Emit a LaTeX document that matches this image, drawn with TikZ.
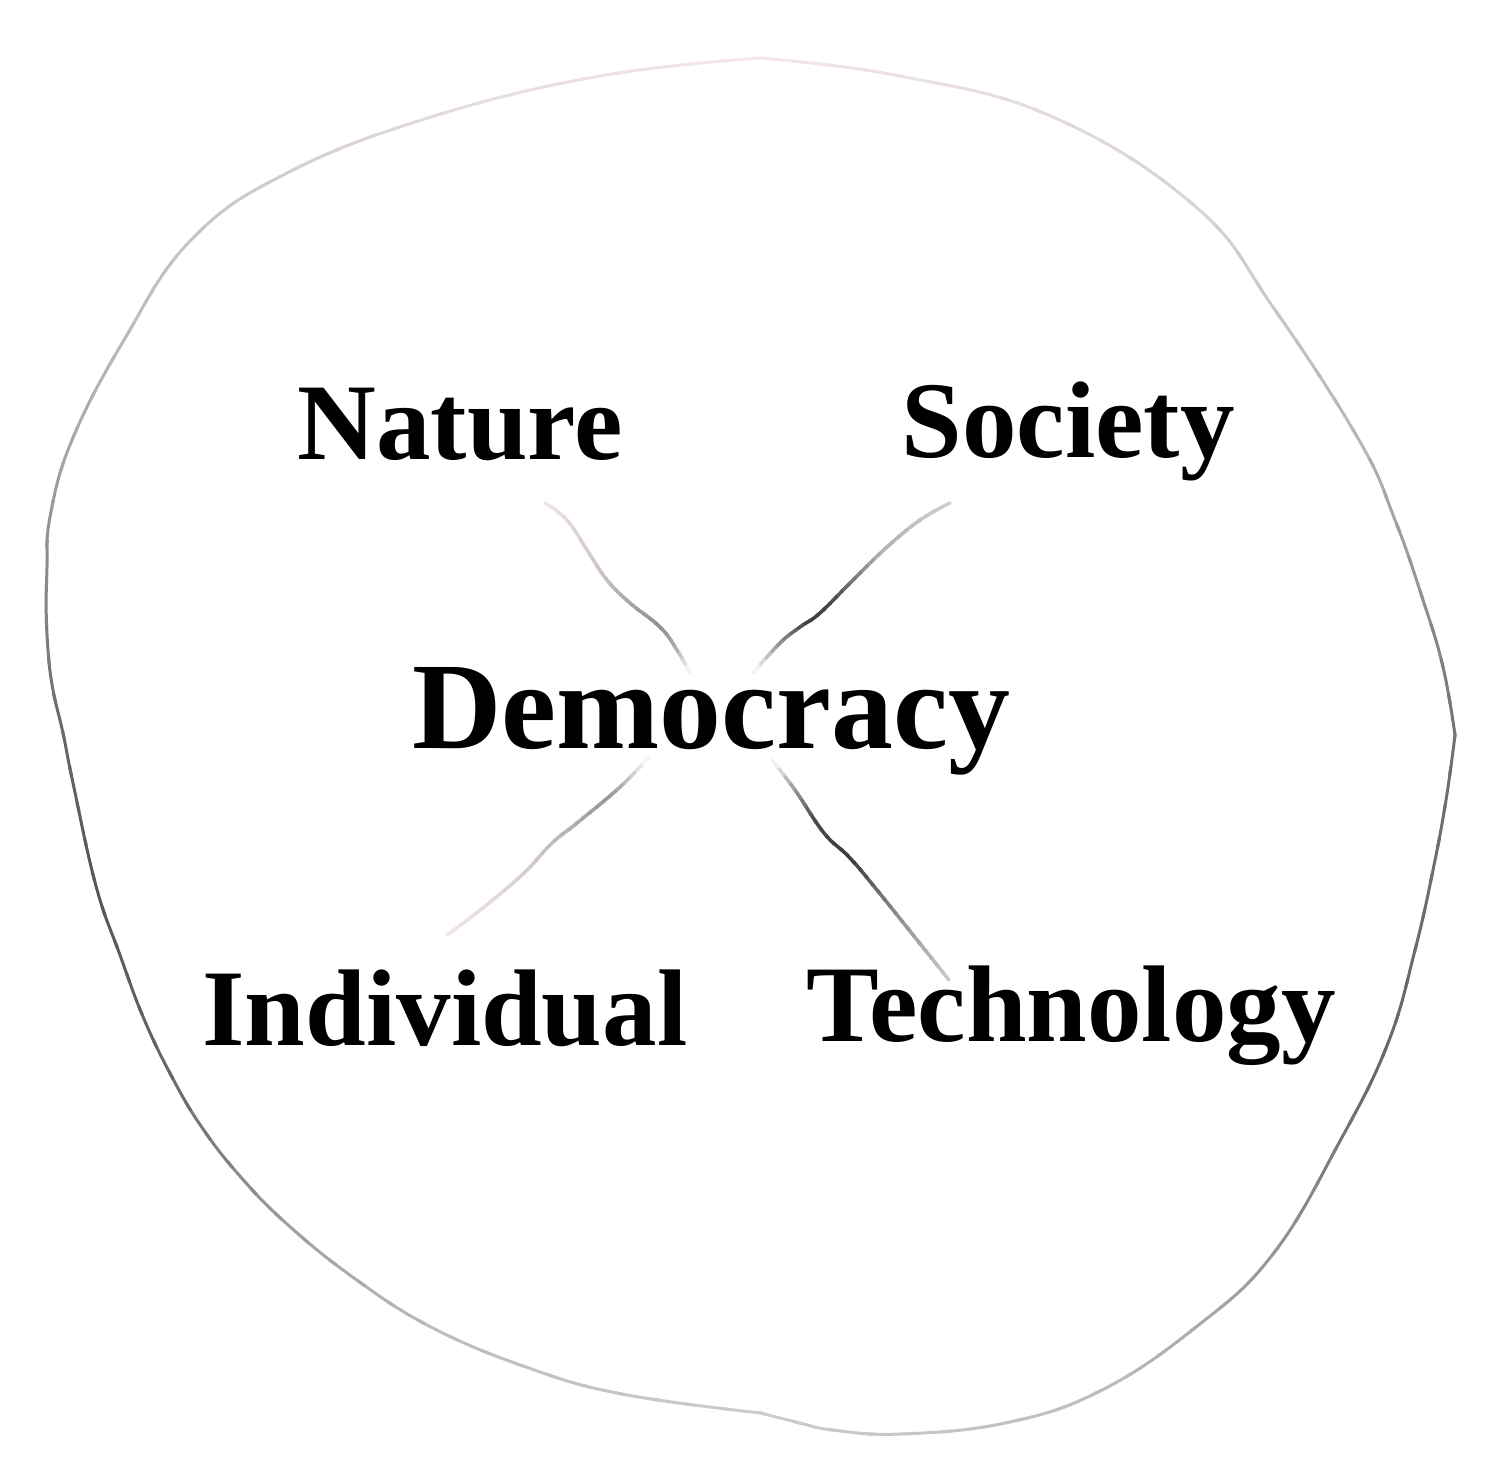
\documentclass[tikz,border=0pt]{standalone}
\usepackage{fontspec}
\setmainfont{Liberation Serif}
\usetikzlibrary{calc}

\gdef\gcol{255,255,255}
% sets colour gcur from a position #1 and a stop list macro #2 (pos/R/G/B,...)
\newcommand\setgradcolor[2]{%
  \foreach \xP/\xR/\xG/\xB [remember=\xP as \yP (initially 0), remember=\xR as \yR (initially 0), remember=\xG as \yG (initially 0), remember=\xB as \yB (initially 0)] in #2 {%
    \ifdim\xP pt>\yP pt
      \ifdim#1pt<\yP pt\else
        \ifdim#1pt>\xP pt\else
          \pgfmathsetmacro\gF{(#1-\yP)/(\xP-\yP)}%
          \pgfmathtruncatemacro\gR{\yR+(\xR-\yR)*\gF}%
          \pgfmathtruncatemacro\gG{\yG+(\xG-\yG)*\gF}%
          \pgfmathtruncatemacro\gB{\yB+(\xB-\yB)*\gF}%
          \xdef\gcol{\gR,\gG,\gB}%
        \fi
      \fi
    \fi
  }%
  \definecolor{gcur}{RGB}{\gcol}%
}

\tikzset{
  lbl/.style={font=\fontsize{31}{36}\selectfont\bfseries, inner sep=0pt, anchor=base},
  biglbl/.style={font=\fontsize{35.2}{42}\selectfont\bfseries, inner sep=0pt, anchor=base},
  smoothpath/.style={smooth, tension=0.7},
  connline/.style={line width=1pt, line cap=round},
  blobline/.style={line width=0.85pt, line cap=round, line join=round}
}

% connector drawn in bands across its chord #1 -> #2, stops #3, points #4
\newcommand\gradconn[4]{%
  \foreach \k in {0,...,29}{%
    \pgfmathsetmacro\tA{ifthenelse(\k==0,-0.3,(\k-0.15)/30)}%
    \pgfmathsetmacro\tB{ifthenelse(\k==29,1.3,(\k+1.15)/30)}%
    \pgfmathsetmacro\tM{(\k+0.5)/30}%
    \setgradcolor{\tM}{#3}%
    \begin{scope}
      \path ($(#1)!\tA!(#2)$) coordinate (gp) ($(#1)!\tB!(#2)$) coordinate (gq);
      \clip ($(gp)!40pt!90:(gq)$) -- ($(gq)!40pt!-90:(gp)$) -- ($(gq)!40pt!90:(gp)$) -- ($(gp)!40pt!-90:(gq)$) -- cycle;
      \draw[gcur, connline] plot[smoothpath] coordinates {#4};
    \end{scope}
  }%
}

\def\blobstops{0/115/112/112, 30/105/103/103, 45/150/148/148, 62/190/189/189, 90/205/205/205, 119/190/189/189, 134/160/158/158, 150/105/103/103, 167/88/86/86, 180/105/102/102, 191/135/132/132, 203/170/166/166, 212/190/185/185, 230/212/205/205, 242/228/220/220, 270/245/232/232, 309/218/212/212, 334/185/181/181, 348/150/147/147, 360/115/112/112}
\def\natstops{0/240/230/230, 0.4/205/195/195, 0.75/145/140/140, 0.88/175/172/172, 1/255/255/255}
\def\socstops{0/210/210/210, 0.35/175/175/175, 0.6/70/70/70, 0.72/65/65/65, 0.86/150/150/150, 1/255/255/255}
\def\indstops{0/242/232/232, 0.4/215/205/205, 0.6/185/178/178, 0.8/150/148/148, 0.9/200/200/200, 1/255/255/255}
\def\tecstops{0/205/205/205, 0.35/130/130/130, 0.55/60/60/60, 0.75/75/75/75, 0.9/170/170/170, 1/255/255/255}

\begin{document}
\begin{tikzpicture}[x=0.01cm, y=-0.01cm]
\useasboundingbox (0,0) rectangle (1500,1468);

% outline blob, coloured by angle round its centre
\coordinate (ctr) at (760,735);
\coordinate (top) at (760,58);
\coordinate (rc) at (1455,735);
\coordinate (bc) at (761,1413);
\foreach \a in {0,3,...,357}{%
  \pgfmathsetmacro\aM{\a+1.5}%
  \setgradcolor{\aM}{\blobstops}%
  \begin{scope}
    \clip (ctr) -- +(\a-0.4:1600) -- +(\a+3.4:1600) -- cycle;
    \draw[gcur, blobline]
      plot[smoothpath] coordinates {(top) (900,76) (1053,117) (1196,207) (1273,307) (1359,440) (1395,520) (1423,600) (1443,667) (rc)}
      plot[smoothpath] coordinates {(rc) (1446,800) (1433,870) (1415,950) (1388,1043) (1340,1141) (1273,1254) (1196,1327) (1100,1391) (1005,1423) (900,1434) (833,1430) (800,1423) (bc)}
      plot[smoothpath] coordinates {(bc) (622,1394) (526,1367) (431,1327) (354,1278) (287,1224) (239,1175) (201,1126) (172,1077) (144,1019) (120,955) (96,886) (73,783) (63,733) (53,690) (48,650) (46,600) (47,567) (50,517) (72,440) (124,340) (191,240) (287,173) (431,117) (600,76) (top)};
  \end{scope}
}

% labels
\node[biglbl] (dem) at (711,748) {Democracy};
\node[lbl] (nat) at (460,459) {Nature};
\node[lbl] (soc) at (1068,457) {Society};
\node[lbl] (ind) at (445,1045) {Individual};
\node[lbl] (tec) at (1071,1041) {Technology};

% connector ends
\coordinate (natA) at (545,503);
\coordinate (natB) at (690,673);
\coordinate (socA) at (950,503);
\coordinate (socB) at (753,673);
\coordinate (indA) at (447,935);
\coordinate (indB) at (649,757);
\coordinate (tecA) at (949,980);
\coordinate (tecB) at (772,760);

\gradconn{natA}{natB}{\natstops}{(natA) (567,520) (587,550) (607,580) (630,603) (660,627) (677,650) (natB)}
\gradconn{socA}{socB}{\socstops}{(socA) (920,520) (887,547) (853,580) (820,613) (800,627) (780,643) (socB)}
\gradconn{indA}{indB}{\indstops}{(indA) (484,907) (524,873) (552,843) (577,823) (620,787) (indB)}
\gradconn{tecA}{tecB}{\tecstops}{(tecA) (877,890) (849,857) (824,833) (795,790) (tecB)}
\end{tikzpicture}
\end{document}
